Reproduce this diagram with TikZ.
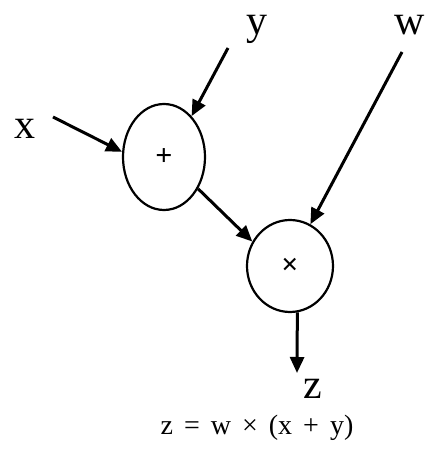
\documentclass[tikz,border=0pt]{standalone}
\usepackage{fontspec}
\setmainfont{Liberation Serif}
\usetikzlibrary{shapes.geometric,arrows.meta}
\begin{document}
\begin{tikzpicture}[x=1pt,y=1pt,
  op/.style={draw, ellipse, line width=2.2pt, inner sep=0pt, font=\fontsize{30}{30}\selectfont\bfseries},
  lab/.style={inner sep=0pt, font=\fontsize{42}{42}\selectfont},
  arr/.style={line width=3pt, -{Triangle[length=16pt,width=14pt]}}]
\useasboundingbox (0,0) rectangle (433,450);
\node[op, minimum width=82pt, minimum height=106pt] (plus) at (164,293) {+};
\node[op, minimum width=86pt, minimum height=92pt] (times) at (290,184) {×};
\node[lab] (xl) at (25,321) {x};
\node[lab] (yl) at (257,421) {y};
\node[lab] (wl) at (410,425) {w};
\node[lab] (zl) at (313,61) {z};
\node[inner sep=0pt, font=\fontsize{28}{28}\selectfont] (eq) at (257,22) {z\hspace{11pt}=\hspace{11pt}w\hspace{11pt}×\hspace{11pt}(x\hspace{11pt}+\hspace{11pt}y)};
\coordinate (xs) at (53,333);
\coordinate (ys) at (228,402);
\coordinate (ws) at (402,398);
\coordinate (ze) at (297,77);
\draw[arr] (xs) -- (plus.173);
\draw[arr] (ys) -- (plus.56);
\draw[arr] (plus.-43) -- (times.147);
\draw[arr] (ws) -- (times.64);
\draw[arr] (times.-81) -- (ze);
\end{tikzpicture}
\end{document}
